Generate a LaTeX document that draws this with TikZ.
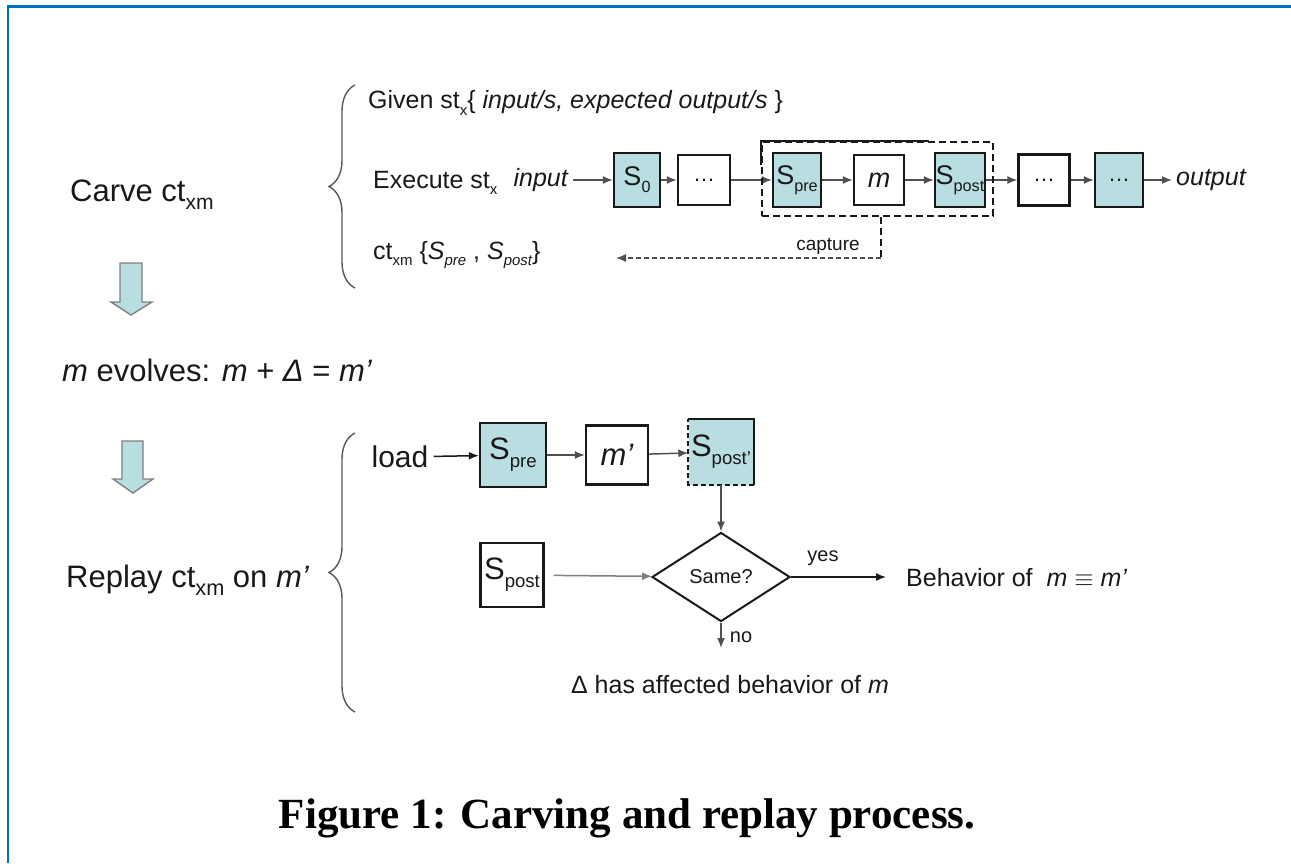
\documentclass[tikz,border=0pt]{standalone}
\usepackage{fontspec}
\usepackage{graphicx}
\setmainfont{Liberation Sans}
\newfontfamily\capfont{Liberation Serif}
\usetikzlibrary{arrows.meta,shapes.geometric,decorations.pathreplacing}

\definecolor{stateteal}{RGB}{185,222,225}
\definecolor{frameblue}{RGB}{0,112,192}
\definecolor{ink}{RGB}{25,25,25}
\definecolor{wire}{RGB}{80,80,80}

% lowered, shrunk subscript in the style of the slide text
\newcommand{\lo}[1]{\raisebox{-0.5ex}{\scalebox{0.6}{#1}}}
\newcommand{\fs}[1]{\fontsize{#1}{#1}\selectfont}

\begin{document}
\begin{tikzpicture}[x=1pt,y=-1pt,
  txt/.style={inner sep=0pt,text=ink},
  statebox/.style={draw=ink,line width=2.3pt,fill=stateteal,inner sep=0pt,text=ink},
  plainbox/.style={draw=ink,line width=2.3pt,fill=white,inner sep=0pt,text=ink},
  arr/.style={draw=wire,line width=1.5pt,-{Latex[length=10pt,width=8pt]}},
  longdash/.style={dash pattern=on 7pt off 4pt},
  bigarrow/.style={draw=gray,line width=1.4pt,fill=stateteal},
  bracestyle/.style={draw=gray!70!black,line width=1.4pt,decorate,
    decoration={brace,amplitude=26pt,aspect=0.5}}]

\useasboundingbox (0,0) rectangle (1291,863);

% page frame
\draw[frameblue,line width=2.4pt] (8,863) -- (8,6.5) -- (1291,6.5);

% ---------- left column ----------
\node[txt,anchor=west,font=\fs{31}] (carve) at (70,195) {Carve ct\raisebox{-0.5ex}{\scalebox{0.68}{xm}}};
\draw[bigarrow] (120,263) -- (142,263) -- (142,302) -- (152,302) -- (131,315)
  -- (111,302) -- (120,302) -- cycle;
\node[txt,anchor=west,font=\fs{31}] (evolve) at (62,370)
  {\textit{m} evolves: \textit{m} + \textit{Δ} = \textit{m’}};
\draw[bigarrow] (122,441) -- (143,441) -- (143,479) -- (153,479) -- (133,493)
  -- (113,479) -- (122,479) -- cycle;
\node[txt,anchor=west,font=\fs{31}] (replay) at (66,580)
  {Replay ct\raisebox{-0.5ex}{\scalebox{0.7}{xm}} on \textit{m’}};

% ---------- carving ----------
\draw[bracestyle] (355,288) -- (355,85);
\node[txt,anchor=west,font=\fs{25}] (given) at (368,103)
  {Given st\lo{x}\{ \textit{input/s, expected output/s} \}};
\node[txt,anchor=west,font=\fs{25}] (exec) at (373,183) {Execute st\lo{x}};
\node[txt,anchor=east,font=\fs{25}\itshape] (inp) at (568,180) {input};
\node[txt,anchor=west,font=\fs{25}] (ctxm) at (373,255)
  {ct\lo{xm} \{\textit{S\lo{pre}} , \textit{S\lo{post}}\}};

\node[statebox,minimum width=46,minimum height=54,font=\fs{27}] (s0) at (637,180) {S\lo{0}};
\node[plainbox,minimum width=52,minimum height=50,font=\fs{22}] (d1) at (704,180) {\dots};
\node[statebox,minimum width=48,minimum height=54,font=\fs{27}] (spre) at (797,180) {S\lo{pre}};
\node[plainbox,minimum width=50,minimum height=50,font=\fs{27}\itshape] (mm) at (879,180) {m};
\node[statebox,minimum width=50,minimum height=54,font=\fs{27}] (spost) at (960,180) {S\lo{post}};
\node[plainbox,minimum width=51,minimum height=51,font=\fs{22}] (d2) at (1044,180) {\dots};
\node[statebox,minimum width=48,minimum height=54,font=\fs{22}] (d3) at (1119,180) {\dots};
\node[txt,anchor=west,font=\fs{25}\itshape] (outp) at (1176,180) {output};

\draw[arr,shorten <=5pt] (inp) -- (s0);
\draw[arr] (s0) -- (d1);
\draw[arr] (d1) -- (spre);
\draw[arr] (spre) -- (mm);
\draw[arr] (mm) -- (spost);
\draw[arr] (spost) -- (d2);
\draw[arr] (d2) -- (d3);
\draw[arr,shorten >=4pt] (d3) -- (outp);

% captured window
\node[draw=ink,line width=2pt,longdash,minimum width=231,minimum height=74,inner sep=0pt]
  (capbox) at (877.5,179) {};
\draw[ink,line width=2pt] ([yshift=-24pt]capbox.north west) -- (capbox.north west) -- ++(168,0);
\coordinate (capturn) at (881,258);
\coordinate (capend) at (616,258);
\draw[ink,line width=2pt,longdash] (capbox.south -| capturn) -- (capturn);
\draw[wire,line width=1.3pt,dash pattern=on 5pt off 3pt,-{Latex[length=10pt,width=8pt]}]
  (capturn) -- (capend);
\node[txt,font=\fs{19}] (capture) at (828,246) {capture};

% ---------- replay ----------
\draw[bracestyle] (355,712) -- (355,433);
\node[txt,font=\fs{30}] (load) at (400,457) {load};
\node[statebox,minimum width=66,minimum height=64,font=\fs{31}] (spre2) at (513,455) {S\lo{pre}};
\node[plainbox,minimum width=62,minimum height=59,font=\fs{31}\itshape] (mp) at (617,455) {m’};
\node[fill=stateteal,minimum width=65,minimum height=65,inner sep=0pt,text=ink,font=\fs{31}]
  (spostp) at (721,452) {S\lo{post’}};
\draw[ink,line width=2.3pt] (spostp.north west) -- (spostp.north east) -- (spostp.south east);
\draw[ink,line width=2pt,dash pattern=on 5pt off 3pt] (spostp.south east) -- (spostp.south west) -- (spostp.north west);

\node[plainbox,minimum width=63,minimum height=64,font=\fs{31}] (spost2) at (512,575) {S\lo{post}};
\node[draw=ink,line width=2pt,diamond,minimum width=138,minimum height=89,inner sep=0pt,
  text=ink,font=\fs{20}] (same) at (721,577) {Same?};
\coordinate (yesend) at (886,577);
\coordinate (noend) at (721,648);
\node[txt,font=\fs{20}] (yes) at (823,558) {yes};
\node[txt,font=\fs{20}] (no) at (741,637) {no};
\node[txt,anchor=west,font=\fs{25}] (beh) at (906,578)
  {Behavior of \ \textit{m} $\equiv$ \textit{m’}};
\node[txt,font=\fs{25}] (affect) at (730,685) {Δ has affected behavior of \textit{m}};

\draw[arr,draw=ink,shorten <=5pt] (load) -- (spre2);
\draw[arr] (spre2) -- (mp);
\draw[arr] (mp) -- (spostp);
\draw[arr] (spostp) -- (same);
\draw[arr,shorten <=9pt,draw=gray] (spost2) -- (same);
\draw[arr,draw=ink] (same.east) -- (yesend);
\draw[arr] (same.south) -- (noend);

% caption
\node[txt,text=black,font=\capfont\bfseries\fs{43}] (caption) at (627,818)
  {Figure 1: Carving and replay process.};
\end{tikzpicture}
\end{document}
